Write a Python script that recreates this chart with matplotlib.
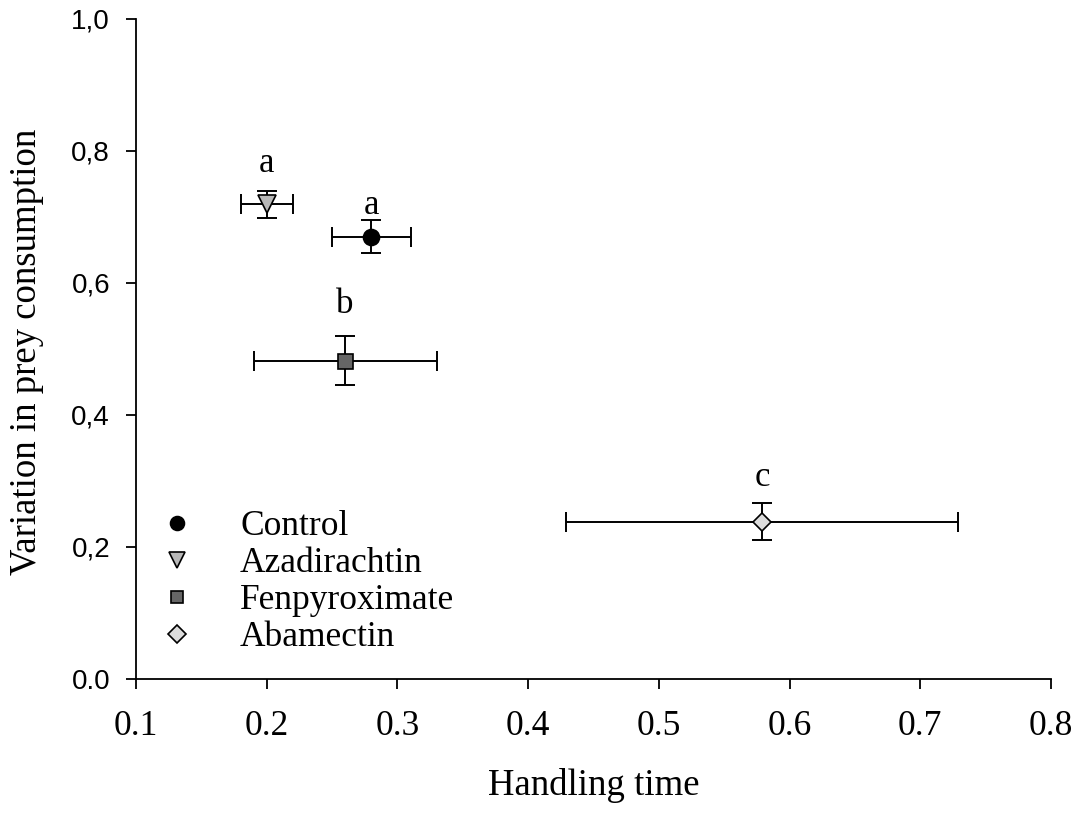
import matplotlib
matplotlib.use("Agg")
import matplotlib.pyplot as plt

treatments = ["Control", "Azadirachtin", "Fenpyroximate", "Abamectin"]
handling_time = [0.28, 0.20, 0.26, 0.579]
handling_err = [0.03, 0.02, 0.07, 0.15]
prey_var = [0.67, 0.719, 0.482, 0.238]
prey_err = [0.025, 0.021, 0.037, 0.028]
letters = ["a", "a", "b", "c"]
letter_base_y = [0.704, 0.768, 0.554, 0.292]

markers = ["o", "v", "s", "D"]
colors = ["#000000", "#b8b8b8", "#666666", "#dcdcdc"]
msizes = [11.5, 12.5, 10.8, 8.9]
leg_msizes = [10, 11, 8.8, 9.2]

xticks = [0.1, 0.2, 0.3, 0.4, 0.5, 0.6, 0.7, 0.8]
yticks = [0.0, 0.2, 0.4, 0.6, 0.8, 1.0]
ytick_labels = ["0.0", "0,2", "0,4", "0,6", "0,8", "1,0"]

serif = "Liberation Serif"
sans = "Liberation Sans"

W, H = 1078, 815
# axes box: left 136 px, right 1051 px, top 19 px, bottom 679 px
fig = plt.figure(figsize=(W / 100, H / 100), dpi=100)
ax = fig.add_axes([136 / W, (H - 679) / H, 915 / W, 660 / H])

for i in range(len(treatments)):
    ax.errorbar(handling_time[i], prey_var[i], xerr=handling_err[i], yerr=prey_err[i],
                fmt="none", ecolor="black", elinewidth=1.4, capsize=7.3, capthick=1.4, zorder=2)
    ax.plot(handling_time[i], prey_var[i], marker=markers[i], markersize=msizes[i],
            markerfacecolor=colors[i], markeredgecolor="black", markeredgewidth=1.2,
            linestyle="none", zorder=3)
    ax.text(handling_time[i], letter_base_y[i], letters[i], ha="center", va="baseline",
            fontsize=25, family=serif)

# legend (manual rows: marker + label)
leg_rows_px = [523, 560, 597, 634]
for i in range(len(treatments)):
    yy = (679 - leg_rows_px[i]) / 660
    ax.plot([0.0448], [yy], transform=ax.transAxes, marker=markers[i],
            markersize=leg_msizes[i], markerfacecolor=colors[i], markeredgecolor="black",
            markeredgewidth=1.2, linestyle="none", clip_on=False)
    ax.text(0.1137, yy - 12 / 660, treatments[i], transform=ax.transAxes, ha="left",
            va="baseline", fontsize=25.5, family=serif)

ax.set_xlim(0.1, 0.8)
ax.set_ylim(0.0, 1.0)
ax.set_xticks(xticks)
ax.set_xticklabels([f"{v:.1f}" for v in xticks], family=serif, fontsize=25.5)
ax.set_yticks(yticks)
ax.set_yticklabels(ytick_labels, family=sans, fontsize=20)
ax.tick_params(axis="both", direction="out", length=7.2, width=1.3, color="black")
ax.tick_params(axis="x", pad=15)
ax.tick_params(axis="y", pad=11.5)
for s in ["top", "right"]:
    ax.spines[s].set_visible(False)
for s in ["left", "bottom"]:
    ax.spines[s].set_linewidth(1.3)

ax.set_xlabel("Handling time", family=serif, fontsize=26.5)
ax.xaxis.set_label_coords(0.5, -(768 - 679) / 660)
ax.set_ylabel("Variation in prey consumption", family=serif, fontsize=26.5)
ax.yaxis.set_label_coords(-(136 - 44) / 915, (679 - 352) / 660)

fig.savefig("out.png", dpi=100)
